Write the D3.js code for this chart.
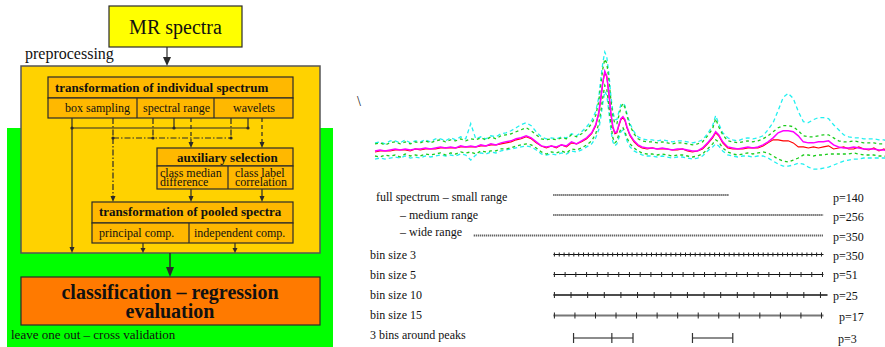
<!DOCTYPE html>
<html><head><meta charset="utf-8">
<script src="https://cdn.jsdelivr.net/npm/d3@7"></script>
<style>
body{margin:0;background:#fff}
svg{display:block}
</style>
</head><body>
<svg id="c" width="885" height="347"></svg>
<script>
// ---- spectrum: sample positions (spectral point index) and summary curves ----
const specPoints = [0,5,10,15,20,25,30,35,40,45,50,55,60,65,70,75,80,85,90,95,100,105,110,115,120,125,130,135,140,145,150,155,160,165,170,175,180,185,190,195,200,205,210,215,
  219,222,224,226,228,230,232,234,236,238,240,242,244,246,248,250,253,257,261,265,
  270,275,280,285,290,295,300,305,310,315,320,325,330,335,
  338,341,
  345,350,355,360,365,370,375,380,385,390,395,400,405,410,415,420,425,430,435,440,445,450,455,460,465,470,475,480,485,490,495,500,505,510];
const meanSpec = [5,6,5,6,7,6,7,6,7,7,8,7,8,9,8,9,8,10,9,10,9,11,10,12,11,13,14,15,17,18,20,18,14,10,9,10,9,11,10,14,12,15,18,23,
  31,43,57,73,84,79,63,43,29,23,24,31,37,39,36,29,21,15,11,9,
  8,8,7,8,7,6,7,7,6,5,5,8,13,19,
  24,21,
  14,9,8,7,8,9,8,9,11,14,18,23,25,25,24,20,14,13,13,14,14,15,11,9,8,8,9,8,7,7,7,6,6,5];
const medianSpec = [4,5,5,5,6,6,6,5,7,6,7,7,7,8,8,8,8,9,9,9,9,10,10,11,11,12,13,14,16,17,19,17,13,10,8,10,8,11,9,13,12,14,17,22,
  30,42,56,72,83,78,62,42,28,22,23,30,36,38,35,28,20,14,10,8,
  7,8,7,7,7,6,6,7,5,4,5,7,12,18,
  23,20,
  13,8,7,7,7,8,8,8,10,13,16,16,15,15,13,9,9,8,9,8,9,10,7,8,9,7,7,9,7,6,8,5,7,4];
const innerUpper = [12,13,11,13,14,12,14,12,14,13,15,13,15,16,14,16,15,17,15,17,16,18,16,19,17,20,21,22,24,26,28,25,21,17,16,17,16,18,17,21,19,22,26,32,
  40,54,70,86,96,92,76,56,40,32,32,40,48,52,48,40,30,22,17,15,
  14,14,13,14,13,12,13,13,12,11,12,14,20,27,
  37,29,
  21,15,14,13,14,15,14,15,17,20,24,28,30,30,29,25,20,19,19,20,21,21,18,15,14,14,15,14,13,13,13,12,12,11];
const innerLower = [0,-1,1,0,1,-1,2,0,1,0,2,1,2,3,1,3,2,4,3,4,2,5,4,5,5,7,7,8,10,11,12,11,8,4,2,4,3,5,3,7,6,8,11,15,
  22,32,44,58,70,66,50,32,18,13,15,22,27,28,24,18,12,8,5,3,
  2,2,1,2,1,0,1,1,0,-1,0,2,7,12,
  16,14,
  8,4,2,1,2,3,2,3,4,3,0,-3,-5,-6,-4,-2,1,1,0,1,1,2,2,2,2,2,3,2,1,1,1,0,0,-1];
const outerUpper = [13,14,12,15,15,13,16,13,15,14,16,14,17,17,15,18,16,19,17,32,17,19,17,20,19,22,23,25,28,31,33,30,24,19,17,18,17,19,18,22,20,24,29,35,
  44,58,76,92,103,98,82,60,44,36,36,44,51,52,50,42,32,24,19,17,
  16,16,15,16,15,14,15,15,14,13,14,16,22,30,
  40,32,
  23,18,16,15,17,18,17,18,20,26,33,45,58,62,57,44,34,33,36,38,38,37,31,26,21,19,18,18,17,17,17,16,16,14];
const outerLower = [-3,-2,-3,-2,-1,-2,0,-2,-1,-2,0,-1,0,1,0,1,0,2,1,-4,1,3,2,4,3,5,6,7,8,9,10,9,6,2,1,2,1,3,2,5,4,6,9,12,
  18,26,38,52,64,60,44,26,14,10,12,18,24,26,22,15,9,5,3,1,
  0,0,-1,0,-1,-2,-1,-1,-2,-3,-2,0,5,9,
  12,10,
  5,1,0,-1,0,0,-1,0,0,-2,-5,-8,-10,-10,-9,-7,-8,-11,-13,-13,-12,-11,-9,-7,-5,-4,-3,-3,-2,-2,-2,-2,-2,-2];

// ---- feature sets drawn under the spectrum ----
const rowLabels = ["full spectrum \u2013 small range", "\u2013 medium range", "\u2013 wide range",
  "bin size 3", "bin size 5", "bin size 10", "bin size 15", "3 bins around peaks"];
const rowP = [140, 256, 350, 350, 51, 25, 17, 3];
const rangeStart = [177, 177, 98, 177, 177, 177, 177];
const rangeEnd = [351, 445, 445, 445, 445, 449, 445];
const binIntervals = [55, 25, 16, 13];
const binTickFrom = [178, 178, 178, 178];
const binTickTo = [443, 444, 442, 443];
const peakBinEdges = [[197, 235, 256], [315, 355]];

const FONT = "'Liberation Serif', 'Times New Roman', Times, 'DejaVu Serif', serif";
const svg = d3.select("#c").attr("font-family", FONT);

// ================= workflow diagram =================
const ink = "#2a2a2a";
const g = svg.append("g");

function box(x, y, w, h, fill, stroke, sw) {
  g.append("rect").attr("x", x).attr("y", y).attr("width", w).attr("height", h)
    .attr("fill", fill).attr("stroke", stroke || ink).attr("stroke-width", sw || 1.2);
}
function line(x1, y1, x2, y2, dash, sw) {
  g.append("line").attr("x1", x1).attr("y1", y1).attr("x2", x2).attr("y2", y2)
    .attr("stroke", ink).attr("stroke-width", sw || 1.2)
    .attr("stroke-dasharray", dash || null);
}
function arrowHead(x, y, len, half) {
  g.append("path").attr("d", `M${x},${y} L${x - half},${y - len} L${x + half},${y - len} Z`).attr("fill", ink);
}
function dot(x, y) { g.append("circle").attr("cx", x).attr("cy", y).attr("r", 1.6).attr("fill", ink); }
function label(x, y, s, size, weight, anchor) {
  g.append("text").attr("x", x).attr("y", y).attr("font-family", FONT).attr("font-size", size)
    .attr("font-weight", weight || "normal").attr("fill", "#111")
    .attr("text-anchor", anchor || "start").text(s);
}

// backgrounds
box(7, 128, 326, 222, "#00ff00", "none", 0);
box(21, 66, 299, 187, "#ffd200", "#555", 1.5);

// source
box(109, 6, 133, 41, "#ffff00");
label(175.5, 34, "MR spectra", 20, "normal", "middle");
line(167, 47, 167, 58);
arrowHead(167, 66, 9, 4);
label(25, 59, "preprocessing", 16);

// individual spectrum transforms
const inner = "#ffb800";
box(48, 77, 245, 21, inner);
box(48, 98, 245, 20, inner);
line(137, 98, 137, 118); line(214, 98, 214, 118);
label(55, 92, "transformation of individual spectrum", 13, "bold");
label(65, 112, "box sampling", 12);
label(143, 112, "spectral range", 12);
label(233, 112, "wavelets", 12);

// solid connectors
line(72, 128, 248, 128);
line(72, 118, 72, 247);
arrowHead(72, 253, 6, 2.5);
line(174, 118, 174, 128); line(248, 118, 248, 128);
[72, 174, 248].forEach(x => dot(x, 128));

// dash-dot connectors
const dd = "6,2,1.5,2";
[113, 153, 231].forEach(x => line(x, 118, x, 138, dd));
line(113, 138, 231, 138, dd);
[113, 153, 231].forEach(x => dot(x, 138));
line(113, 138, 113, 196, dd);
arrowHead(113, 202, 6, 2.5);

// dashed connectors into auxiliary selection
[191, 262].forEach(x => { line(x, 118, x, 142, "4,3"); arrowHead(x, 148, 6, 2.5); });

// auxiliary selection
box(157, 148, 136, 18, inner);
box(157, 166, 136, 23, inner);
line(228, 166, 228, 189);
label(177, 162, "auxiliary selection", 13, "bold");
label(160, 177, "class median", 12);
label(160, 186, "difference", 12);
label(235, 177, "class label", 12);
label(235, 186, "correlation", 12);
[191, 262].forEach(x => { line(x, 189, x, 196); arrowHead(x, 202, 6, 2.5); });

// pooled spectra transforms
box(92, 202, 201, 21, inner);
box(92, 223, 201, 20, inner);
line(189, 223, 189, 243);
label(99, 216, "transformation of pooled spectra", 13, "bold");
label(99, 237, "principal comp.", 12);
label(194, 237, "independent comp.", 12);
[143, 235].forEach(x => { line(x, 243, x, 248); arrowHead(x, 253, 5, 2.5); });

// evaluation
line(170, 253, 170, 267, null, 1.5);
arrowHead(170, 277, 10, 4);
box(21, 277, 299, 48, "#ff7a00");
label(170, 299, "classification \u2013 regression", 20, "bold", "middle");
label(170, 318, "evaluation", 20, "bold", "middle");
label(11, 339, "leave one out \u2013 cross validation", 13);

// ================= spectrum panel =================
const x = d3.scaleLinear().domain([0, 510]).range([375, 889]);
const y = d3.scaleLinear().domain([0, 100]).range([156, 55]);
svg.append("defs").append("clipPath").attr("id", "sp")
  .append("rect").attr("x", 370).attr("y", 0).attr("width", 515).attr("height", 185);
const sp = svg.append("g").attr("clip-path", "url(#sp)");

svg.append("text").attr("x", 357).attr("y", 106).attr("font-family", FONT)
  .attr("font-size", 14).attr("fill", "#111").text("\\");

const curve = vals => d3.line().x((d, i) => x(specPoints[i])).y(d => y(d))(vals);
const series = [
  {v: outerUpper, c: "#22f0f0", w: 1.3, dash: "4,3"},
  {v: outerLower, c: "#22f0f0", w: 1.3, dash: "4,3"},
  {v: innerUpper, c: "#1ccc1c", w: 1.3, dash: "3,3"},
  {v: innerLower, c: "#1ccc1c", w: 1.3, dash: "3,3"},
  {v: medianSpec, c: "#ff0000", w: 1.1, dash: null},
  {v: meanSpec, c: "#ff00ff", w: 1.5, dash: null}
];
series.forEach(s => sp.append("path").attr("d", curve(s.v)).attr("fill", "none")
  .attr("stroke", s.c).attr("stroke-width", s.w).attr("stroke-dasharray", s.dash));

// ================= feature set rows =================
const rowY = [195, 215, 235.5, 254.5, 274.5, 295, 315.5, 338];
const labelBase = [201, 219, 236, 259, 279, 299, 319, 338.5];
const labelX = [376, 400, 400, 370, 370, 370, 370, 370];
const pBase = [202, 220.5, 240.5, 260, 279, 299.5, 320.5, 343];
const pX = [833, 833, 833, 833, 833, 833, 839, 838];
const rows = svg.append("g");

rowLabels.forEach((s, i) => rows.append("text").attr("x", labelX[i]).attr("y", labelBase[i])
  .attr("font-family", FONT).attr("font-size", 12).attr("fill", "#111").text(s));
rowP.forEach((p, i) => rows.append("text").attr("x", pX[i]).attr("y", pBase[i])
  .attr("font-family", FONT).attr("font-size", 12).attr("fill", "#111").text("p=" + p));

// full-spectrum ranges
[0, 1, 2].forEach(i => rows.append("line")
  .attr("x1", x(rangeStart[i])).attr("x2", x(rangeEnd[i]))
  .attr("y1", rowY[i]).attr("y2", rowY[i])
  .attr("stroke", "#333").attr("stroke-width", 2).attr("stroke-dasharray", "1,1"));

// binned rows
const binStroke = ["#111", "#111", "#111", "#777"];
const binWidth = [1.2, 1.2, 1.3, 2];
const tickHalf = [2, 2.5, 3, 3];
binIntervals.forEach((n, k) => {
  const i = k + 3, yy = rowY[i];
  rows.append("line").attr("x1", x(rangeStart[i])).attr("x2", x(rangeEnd[i]))
    .attr("y1", yy).attr("y2", yy).attr("stroke", binStroke[k]).attr("stroke-width", binWidth[k]);
  const ticks = d3.range(n + 1).map(j => binTickFrom[k] + (binTickTo[k] - binTickFrom[k]) * j / n);
  rows.selectAll(null).data(ticks).join("line")
    .attr("x1", d => x(d)).attr("x2", d => x(d))
    .attr("y1", yy - tickHalf[k]).attr("y2", yy + tickHalf[k])
    .attr("stroke", "#222").attr("stroke-width", 1);
});

// peak bins
peakBinEdges.forEach(edges => {
  const yy = rowY[7];
  rows.append("line").attr("x1", x(edges[0])).attr("x2", x(edges[edges.length - 1]))
    .attr("y1", yy).attr("y2", yy).attr("stroke", "#666").attr("stroke-width", 1.5);
  rows.selectAll(null).data(edges).join("line")
    .attr("x1", d => x(d)).attr("x2", d => x(d))
    .attr("y1", yy - 5).attr("y2", yy + 5).attr("stroke", "#333").attr("stroke-width", 1.2);
});
</script>
</body></html>
